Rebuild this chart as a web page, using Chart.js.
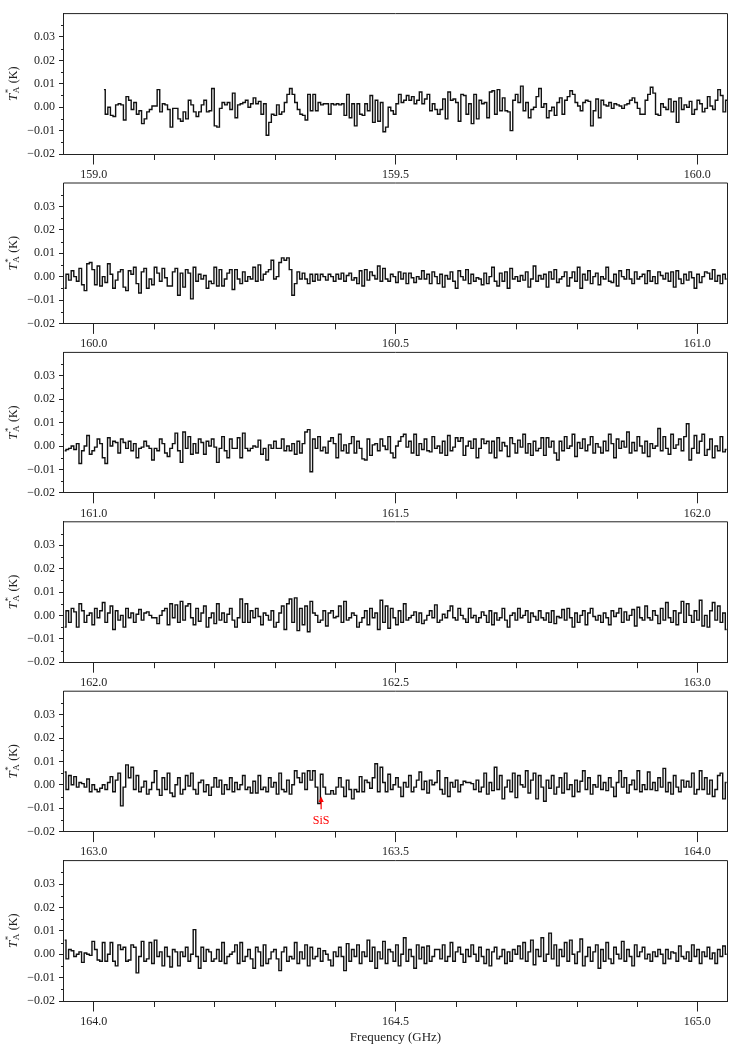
<!DOCTYPE html>
<html>
<head>
<meta charset="utf-8">
<script src="https://cdn.jsdelivr.net/npm/chart.js@4.4.1/dist/chart.umd.min.js"></script>
<style>
  html, body { margin: 0; padding: 0; background: #ffffff; }
  body { position: relative; width: 748px; height: 1053px; overflow: hidden; }
  canvas { position: absolute; left: 0; }
</style>
</head>
<body>
<script>
// ---------------- DATA ----------------
// Channel spacing of the spectra and the frequency of the first channel in each panel (GHz)
const chanWidthGHz = 0.0043;
const panelFirstTickGHz = [159.0, 160.0, 161.0, 162.0, 163.0, 164.0];
const firstChannelGHz = [159.017, 159.952, 160.952, 161.952, 162.952, 163.952];

// Antenna temperature T*A per channel, in mK
const spec1_mK = [
  7.5,-3,0,-3.5,-4,1,1.5,1,-5.5,4.5,3,-1,2,-3,-1.5,-7,
  -5,-2,-1,0.5,0.5,7.5,-2,1.5,1,-1,-8.5,-0.5,-0.5,-5,-6,-2,
  -5,3,1,-2,-4,-2,1,3,-2,-1.5,8,-8,-8.5,-0.5,2,1,
  2,-1,6,-4.5,1,1.5,2,3,0,1.5,4,1.5,2.5,-3,1.5,-12,
  -6.5,-3,-3.5,1,-3,-2,2,5.5,8,5.5,2,-1,-3,-3.5,-5.5,5.5,
  -1.5,5.5,-1.5,2,1,1.5,1.5,-3,1.5,1,1.5,1,1.5,-3.5,5.5,-4.5,
  1.5,-8,1.5,-3,-3.5,1.5,-1.5,5,-6.5,3,-6,2,-10.5,-8.5,0,-1.5,
  -3,1.5,5.5,2,3,5,3,4.5,1.5,3,6.5,1.5,3.5,5.5,-1.5,1.5,
  -1,-3,-1,3.5,-5,6.5,3,3.5,2,-6,5.5,5,-3,1.5,-7,5.5,
  -5,3,1.5,2,-4.5,6.5,7,-3,7.5,-1.5,4,-1.5,-2,-10,3,5.5,
  2,9,-1.5,2,-4.5,-1,0,4.5,8,0,1.5,-4.5,-1.5,0,-3.5,2,
  4,-3,3,4.5,7,5.5,2,0.5,-1.5,2,3,2.5,-8,-1.5,3.5,-4.5,
  3,1,0.5,2,-0.5,1.5,1,0.5,-0.5,1,1.5,3,4,2,-0.5,-3,
  -3,3,5.5,8.5,6,-3,-3.5,1.5,0,-1,3.5,-2,2.5,-6.5,4,-1,
  1,0,2.5,-3,-1,3,1.5,-2,-0.5,4.5,0.5,-1,3,7.5,5,-2,
  3,1
];
const spec2_mK = [
  -5,1,-1.5,2.5,0,-2,3.5,-3.5,-6,5.5,6,3,-3.5,4.5,-4,0,
  -2.5,5.5,1,-5,-1.5,2,3,-4.5,-6,2.5,1,4,-3,-7,2,3.5,
  -5,-1,-3.5,4,1.5,-2,3.5,-0.5,-4,-4,2,3.5,-8,1.5,-4.5,3,
  1.5,-9.5,4,-2,1,-1,0.5,-5,-2,-3,4,-4,3,-4,-1,1.5,
  3,-5.5,3,-1,-3,2,-2,0,-1,
  4,-2,5,-1.5,1,2,3,7,-1,0,6,8,7,8,3,-8,
  -3,2,-1,1.5,-1,-3,1,-2,1,-1.5,1,0,-1.5,1,0,-2,
  1,-1,1.5,-2,0.5,1.5,-1.5,-0.5,-3,2.5,-4,3,-1.5,2,0.5,-1,
  4.5,-2,3.5,-1,-2,1,0,-2.5,2,-1,1.5,-3,1.5,-0.5,-2.5,0,
  -1,2.5,-1,1,-3,2,0,-3,1,-4.5,0.5,-1,2,-2,-5,2.5,
  0,-1.5,3,-3,1,-2,-0.5,-1,-3.5,1.5,-3,0,4,-2,-4,1.5,
  -2,2,-5,3.5,-1,0,-2,0.5,-1.5,2,-4.5,-1,4.5,-2,0.5,-1,
  1,-4.5,2,-1,3,-2.5,-1,0,2,-4,-0.5,2,-2,4,-5,1,
  -1.5,2.5,-3,0,1.5,-3.5,0,-1,4,-2,-2.5,1,-4,2.5,0,-1,
  3,-1,-3,2,-1,0,1,-3,2.5,-2,0,-3,2,0.5,-1,1.5,
  -2,2,-4.5,2.5,-1,-3,1,-1.5,2,-0.5,-5,1,-2.5,0,2,1.5,
  -1,3,-2,0.5,-3,1,-1
];
const spec3_mK = [
  -2,-1.5,-1,0,-1.5,1,-7.5,-2,0,4.5,-3.5,-2,-0.5,3,1,-5,
  -7.5,3.5,0,2,1.5,-3,3,1.5,-1,2,-2,1,-5,-1,-0.5,2,
  0,-1,-6,-1,-2,3,1,-3,-4.5,-1,1,5.5,-2,-7,6,-1,
  4,-3.5,1,-3,3,1.5,-3.5,2,0,3,-0.5,-7,-1,4,-2,-5,
  3,-1,-1,3.5,-5,5.5,-1,-2,-1,0,-0.5,2.5,-3.5,-1,-6,0.5,
  -1,2,-1,-1,3,-2,0,-2,1,-3.5,2,-3,1,6,7,-11,
  3,-1,4,-2,-0.5,-3,2,3.5,1,-5,5,-2,0.5,-3,1,4,
  -3,2,-1,-5.5,-6,3,-4,0.5,1,-2,3,0,-1.5,4,-3,-5,
  0,2,4,5,-0.5,2,-3,5,-4,1,-1.5,3,-2,-2.5,4,-1,
  0,-3,2,-4,4.5,-2,-0.5,3.5,2,3.5,-4,0,2,-1,3,-5,
  -1,3,1,2,-3,2,-5,3.5,-2,1.5,0,-4.5,3.5,1,-3,2.5,
  -0.5,5,-3,1,-4,2,-2,-1,3.5,-4,3.5,-0.5,2,-3,-6,2,
  -2,4,-1,0,5,-4.5,1.5,-1,3,-2,0.5,4,-3,1,-0.5,-3,
  2,-2,5,1,-5,3,-1,2,-0.5,6,-3,1.5,-2,4,0,-3,
  2,-4.5,1,-1,0,7.5,-2,4,-1,-3.5,5,-1,0.5,3,-2,4,
  9.5,-6,-1,4.5,-3,2,5,-4,-1.5,3,-5,0,-2,4,-2.5,-1.5
];
const spec4_mK = [
  -5,2,-3,3,1.5,-5,5,2,-3,0,1,-4,3,-1,2,5.5,
  -3,1,4,-6,2,-2,0,-5,3,-1,1,-3,0.5,2.5,-2,1,
  1.5,0,-1,-1,-3.5,0,2,3,-4,5,-1,4.5,-3,6,-2,4,
  5,-1,-4,3,-2.5,1,4,-5,-1,1,-3.5,5,-2,1,-3,0.5,
  3,-2,-5,-1,7,-3,5,-3,2,-1,3,-0.5,-4,1,0,-2,
  2,-5,-3,1,4,-6,5,7,-3,7.5,-6.5,3,-4,4,-7,6,
  1,0,-3,-2,2,-4.5,1,2,-1,-0.5,4,-3,6,-2,-1,1,
  0,-5,-3,-1,2,-4,3,-1,1,-6,6.5,-3,4,-5.5,3,-1,
  -4,2,-3,5,-2,-1,0,1.5,-3,1,-3.5,-2,0,2,-1,4.5,
  -3,-2,0.5,-1,2,4,-1,-2,3,0,-1.5,-3,3,-1,0,-3,
  -1,1.5,0,-3,2,-4,1,-2,-1,3,-2,-5,0,1,-2,3,
  -1,0,2,-3,1,-0.5,-2,2,-1,-2,1,-3,2,-3.5,-0.5,-1,
  2.5,-2,3,-1,-5,1,-3,0,2,-4,1,3,-0.5,-2,0,-3,
  1,-1,-4,2,-0.5,1,3,-3,1.5,-2,0,2.5,-4.5,3.5,-1,-2,
  4,-1,-2,2,0,-3.5,3,-2,5.5,-1,-3,2,-4,1,6,-3,
  5,0,-3,2,-2,6.5,-4.5,0,-5,2,5.5,-2,4,-3,1,-6
];
const spec5_mK = [
  5.5,-2,4,0,3.5,-1,1,0.5,-1,2.5,-3,0,-2,-3,-1.5,0,
  -2,1,3.5,-3,2,5,-9,-1,8.5,3,7.5,-2,4,-3,-1,1.5,
  -4,-2,1,6,-2,-4.5,3,-2,5,-3.5,-5,0,3,-4,-2,4,
  -0.5,5,-2,-4,1,2,-3,0,-4.5,-1,3,-1,2,-4,0,-2,
  3,-3,1,-2,0,4,-2,-1,-3.5,1.5,-3.5,4,-2,-1,-3,3,
  -1,1,-4,5,-2,-3,2,-4,0,6,3,1,5,-2,6,2,
  6,-1,-8,4.5,-1,-4,-4,-2.5,-4,-1,3,-1,-5,2,-2,-6,
  -2,-3,3.5,-3,2,1,-1.5,3,9,-3,7.5,1,-3,4.5,-2,0,
  3,-1,-5,1,-1,4,-3,-1,2,5.5,-2,1.5,-3.5,2,0,1,
  6,-2,-4,3,-5,1,-1,2,-3,0,1.5,1,1,0.5,-2,2,
  -3,-1,5,-4,1,-2.5,7.5,-2,4,-6,-1,2,-3,5,-5.5,4,
  0,-1,6,-3.5,2,5,-6,4,-1,-7,2,-1.5,4,-4,-1,3,
  -3.5,5,-2,0,-5,2,-3,1.5,6,-2,3,-4,0,-1,4,-2,
  1,-2.5,3,-1,-5,1,6,-1,3,-3.5,0,2,-2,6,-3,0,
  -2,5.5,-2,1,-2.5,3,-1,7,-3,1,-4,4,-1,-3,2,-1,
  1.5,-1,5,-4,-2,6,-2,3,-4,2,-5,-2,4,5,-6,1
];
const spec6_mK = [
  6,-2,2,1.5,-1,0,1,-3.5,0.5,0,-0.5,5.5,2,-2.5,-3,5,
  -3,0,5,-3,-5,4,2,3,-3,-2.5,4,3,-8,-1,5.5,-3,
  -2,5,-4,6,-1,1,-5,3,-1,-5.5,2,1,-5,1,-1,3,
  -3,0,10.5,-1,-6,3,-3,2,1,-3,-2,2,-3,5,-4,-1,
  0,1,4,-4,5,-3,-1,2,-2,-6,3,1,-5,4,-4,-2,
  1,2,-2,-7,1,3,-3,-1,-2,5,-4,1,-2,4,-5,3,
  -2,-1,2.5,-3,1.5,0,-2.5,-5,1,-1,3,-1,-7,4.5,-3,2,
  -1,4,-4,1,-1,6,-3,3,-6,1,-2,5.5,-4,2,1,-3,
  4,-5,0,7,-3,2,-1,-6,4,-2,3,-4,3.5,-3,-1,2,
  2,-2,4,-3,-1,5,-3,1,3,0,-3.5,2,-1,4,0,-3,
  3,-1,-4,2,-5,1,3,-2,-1,2,-4,1,-3,2,0,3.5,
  -2,5,-3,1,6,-4.5,2,-1,7,-3,0,9,-2,4,-5,2,
  -1,5,-3,6,0,-4,1,6.5,-5,-1,3,-3,1,4,-6,2,
  -3,5,-2,-4,3,0,-2,5.5,-3,2,-1,-5,4,-1,1,3,
  -2,0,-3,1,-1,2,0,-4,2,-2,1,0.5,-3,3.5,-1,-2,
  1,-3,4,-1,2,-4,1,-1,3,-2,0.5,-4,2,-1,3.5,0
];
const spectra_mK = [spec1_mK, spec2_mK, spec3_mK, spec4_mK, spec5_mK, spec6_mK];

// Line identification (panel index, rest frequency, arrow and label levels in K)
const lineNames = ['SiS'];
const linePanels = [4];
const lineFreqGHz = [163.3768];
const lineArrowTipK = [-0.005];
const lineArrowTailK = [-0.0105];
const lineLabelK = [-0.0155];

const yMinK = -0.02, yMaxK = 0.04, yStepK = 0.01;
const xTitle = 'Frequency (GHz)';

// ---------------- DRAWING ----------------
const FONT = '"Liberation Serif", "DejaVu Serif", serif';
const INK = '#222';
Chart.defaults.font.family = FONT;

function fmtY(v) {
  if (Math.abs(v) < 1e-9) return '0.00';
  return (v < 0 ? '\u2212' : '') + Math.abs(v).toFixed(2);
}

const framePlugin = {
  id: 'frameTicks',
  afterDraw(chart) {
    const { ctx, chartArea: a, scales: { x, y } } = chart;
    ctx.save();
    ctx.strokeStyle = INK;
    ctx.lineWidth = 1;
    ctx.beginPath();
    ctx.moveTo(a.left, a.top);
    ctx.lineTo(a.right, a.top);
    ctx.lineTo(a.right, a.bottom);
    for (let k = Math.ceil(x.min * 10 - 1e-6); k <= Math.floor(x.max * 10 + 1e-6); k++) {
      if (k % 5 === 0) continue;
      const px = Math.round(x.getPixelForValue(k / 10)) + 0.5;
      ctx.moveTo(px, a.bottom);
      ctx.lineTo(px, a.bottom + 6);
    }
    for (let k = Math.ceil(y.min * 200 - 1e-6); k <= Math.floor(y.max * 200 + 1e-6); k++) {
      if (k % 2 === 0) continue;
      const py = Math.round(y.getPixelForValue(k / 200)) + 0.5;
      ctx.moveTo(a.left, py);
      ctx.lineTo(a.left - 2.5, py);
    }
    ctx.stroke();

    // y-axis label  T*_A (K)
    const cy = (a.top + a.bottom) / 2;
    ctx.translate(12, cy);
    ctx.rotate(-Math.PI / 2);
    ctx.fillStyle = INK;
    ctx.textBaseline = 'alphabetic';
    const fT = 'italic 13px ' + FONT, fS = '9px ' + FONT, fN = '12px ' + FONT;
    ctx.font = fT; const wT = ctx.measureText('T').width;
    ctx.font = fS; const wS = Math.max(ctx.measureText('A').width, ctx.measureText('*').width);
    ctx.font = fN; const wK = ctx.measureText(' (K)').width;
    let tx = -(wT + wS + 1 + wK) / 2;
    const base = 4.5;
    ctx.font = fT; ctx.fillText('T', tx, base); tx += wT + 0.5;
    ctx.font = fS; ctx.fillText('*', tx, base - 6); ctx.fillText('A', tx, base + 2.5); tx += wS + 0.5;
    ctx.font = fN; ctx.fillText(' (K)', tx, base);
    ctx.restore();
  }
};

const linePlugin = {
  id: 'lineMarks',
  afterDraw(chart, args, opts) {
    const marks = opts.marks || [];
    if (!marks.length) return;
    const { ctx, scales: { x, y } } = chart;
    ctx.save();
    marks.forEach(m => {
      const px = x.getPixelForValue(m.freq);
      const yTip = y.getPixelForValue(m.tip);
      const yTail = y.getPixelForValue(m.tail);
      ctx.strokeStyle = 'red';
      ctx.fillStyle = 'red';
      ctx.lineWidth = 1.2;
      ctx.beginPath();
      ctx.moveTo(px, yTail);
      ctx.lineTo(px, yTip + 3);
      ctx.stroke();
      ctx.beginPath();
      ctx.moveTo(px, yTip);
      ctx.lineTo(px - 2.6, yTip + 5.5);
      ctx.lineTo(px + 2.6, yTip + 5.5);
      ctx.closePath();
      ctx.fill();
      ctx.font = '12px ' + FONT;
      ctx.textAlign = 'center';
      ctx.textBaseline = 'middle';
      ctx.fillText(m.name, px, y.getPixelForValue(m.label));
    });
    ctx.restore();
  }
};

const AREA_H = 140.4, PITCH = 169.4, TOP0 = 13.6;
const LEFT_W = 63.5, RIGHT_PAD = 20.5;

spectra_mK.forEach((spec, i) => {
  const areaTop = TOP0 + PITCH * i;
  const cTop = Math.floor(areaTop) - 13;
  const padTop = areaTop - cTop;
  const last = i === spectra_mK.length - 1;
  const H = last ? 1053 - cTop : 190;
  const xh = H - padTop - AREA_H;

  const cv = document.createElement('canvas');
  cv.width = 748; cv.height = H;
  cv.style.top = cTop + 'px';
  cv.style.width = '748px';
  cv.style.height = H + 'px';
  document.body.appendChild(cv);

  const x0 = panelFirstTickGHz[i];
  const pts = spec.map((v, k) => ({ x: firstChannelGHz[i] + k * chanWidthGHz, y: v / 1000 }));
  const marks = [];
  lineNames.forEach((n, j) => {
    if (linePanels[j] === i) marks.push({ name: n, freq: lineFreqGHz[j], tip: lineArrowTipK[j], tail: lineArrowTailK[j], label: lineLabelK[j] });
  });

  new Chart(cv, {
    type: 'line',
    data: {
      datasets: [{
        data: pts,
        stepped: 'middle',
        borderColor: '#111',
        borderWidth: 1.4,
        pointRadius: 0,
        fill: false
      }]
    },
    options: {
      responsive: false,
      animation: false,
      devicePixelRatio: 1,
      layout: { padding: { left: 0, right: RIGHT_PAD, top: padTop, bottom: 0 } },
      plugins: {
        legend: { display: false },
        tooltip: { enabled: false },
        lineMarks: { marks }
      },
      scales: {
        x: {
          type: 'linear',
          min: x0 - 0.05,
          max: x0 + 1.05,
          afterFit: s => { s.height = xh; },
          border: { display: true, color: INK, width: 1 },
          grid: { drawOnChartArea: false, drawTicks: true, tickLength: 10.5, color: INK, tickColor: INK, lineWidth: 1 },
          ticks: {
            stepSize: 0.5, includeBounds: false, autoSkip: false, maxRotation: 0, padding: 3,
            color: INK, font: { family: FONT, size: 12 },
            callback: v => v.toFixed(1)
          },
          title: { display: last, text: xTitle, color: INK, font: { family: FONT, size: 13 }, padding: { top: 0, bottom: 8 } }
        },
        y: {
          type: 'linear',
          min: yMinK,
          max: yMaxK,
          afterFit: s => { s.width = LEFT_W; },
          border: { display: true, color: INK, width: 1 },
          grid: {
            drawOnChartArea: false, drawTicks: true, tickLength: 4.5, color: INK, lineWidth: 1,
            tickColor: c => (c.tick && c.tick.value > yMaxK - 0.0005) ? 'rgba(0,0,0,0)' : INK
          },
          ticks: {
            stepSize: yStepK, includeBounds: false, autoSkip: false, padding: 4,
            color: INK, font: { family: FONT, size: 12 },
            callback: v => (v > yMaxK - 0.0005 ? '' : fmtY(v))
          }
        }
      }
    },
    plugins: [framePlugin, linePlugin]
  });
});
</script>
</body>
</html>
